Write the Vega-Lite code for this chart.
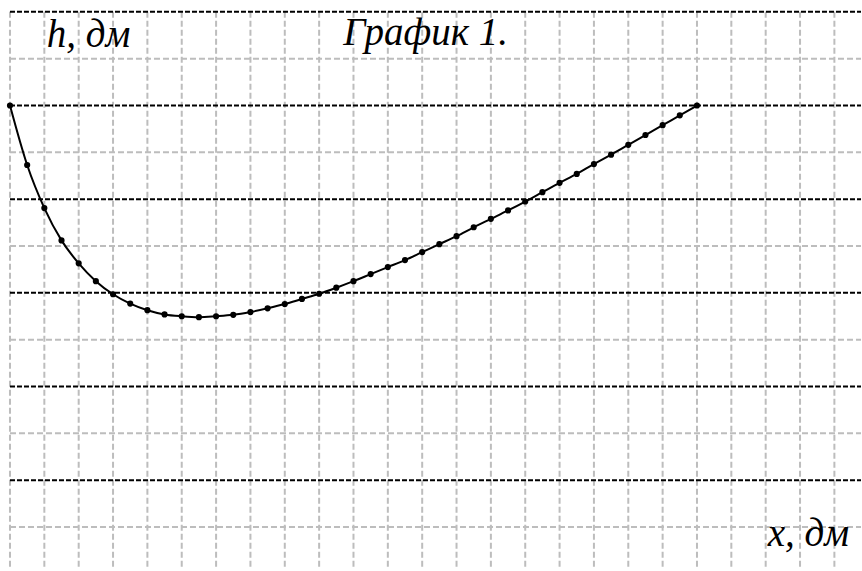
{
  "$schema": "https://vega.github.io/schema/vega-lite/v6.json",
  "width": 862,
  "height": 571,
  "autosize": {"type": "fit", "contains": "padding"},
  "padding": 0,
  "background": "white",
  "config": {"view": {"stroke": null}},
  "datasets": {
    "vlines": [{"gx":0},{"gx":1},{"gx":2},{"gx":3},{"gx":4},{"gx":5},{"gx":6},{"gx":7},{"gx":8},{"gx":9},{"gx":10},{"gx":11},{"gx":12},{"gx":13},{"gx":14},{"gx":15},{"gx":16},{"gx":17},{"gx":18},{"gx":19},{"gx":20},{"gx":21},{"gx":22},{"gx":23},{"gx":24}],
    "hgray": [{"gy":0},{"gy":2},{"gy":4},{"gy":6},{"gy":8},{"gy":10}],
    "hblack": [{"gy":1},{"gy":3},{"gy":5},{"gy":7},{"gy":9},{"gy":11}],
    "curve": [
      {"x":0,"h":9.0},{"x":0.5,"h":7.73},{"x":1,"h":6.81},{"x":1.5,"h":6.12},{"x":2,"h":5.63},{"x":2.5,"h":5.25},{"x":3,"h":4.97},{"x":3.5,"h":4.77},{"x":4,"h":4.63},{"x":4.5,"h":4.54},{"x":5,"h":4.5},{"x":5.5,"h":4.48},{"x":6,"h":4.5},{"x":6.5,"h":4.53},{"x":7,"h":4.59},{"x":7.5,"h":4.67},{"x":8,"h":4.76},{"x":8.5,"h":4.87},{"x":9,"h":4.98},{"x":9.5,"h":5.11},{"x":10,"h":5.25},{"x":10.5,"h":5.4},{"x":11,"h":5.55},{"x":11.5,"h":5.7},{"x":12,"h":5.87},{"x":12.5,"h":6.04},{"x":13,"h":6.21},{"x":13.5,"h":6.4},{"x":14,"h":6.58},{"x":14.5,"h":6.76},{"x":15,"h":6.95},{"x":15.5,"h":7.15},{"x":16,"h":7.35},{"x":16.5,"h":7.54},{"x":17,"h":7.75},{"x":17.5,"h":7.95},{"x":18,"h":8.16},{"x":18.5,"h":8.37},{"x":19,"h":8.58},{"x":19.5,"h":8.79},{"x":20,"h":9.0}
    ],
    "labels": [
      {"tx":1.07,"ty":10.25,"label":"h, дм","pos":"left"},
      {"tx":12.1,"ty":10.3,"label":"График 1.","pos":"center"},
      {"tx":24.43,"ty":-0.4,"label":"x, дм","pos":"right"}
    ]
  },
  "layer": [
    {
      "data": {"name": "vlines"},
      "mark": {"type": "rule", "stroke": "#bdbdbd", "strokeWidth": 2, "strokeDash": [6, 3]},
      "encoding": {
        "x": {"field": "gx", "type": "quantitative", "scale": {"domain": [-0.2908, 24.775], "nice": false, "zero": false}, "axis": null},
        "y": {"datum": 11, "type": "quantitative", "scale": {"domain": [-0.9396, 11.2535], "nice": false, "zero": false}, "axis": null},
        "y2": {"datum": -0.88}
      }
    },
    {
      "data": {"name": "hgray"},
      "mark": {"type": "rule", "stroke": "#bdbdbd", "strokeWidth": 2, "strokeDash": [6, 3]},
      "encoding": {
        "y": {"field": "gy", "type": "quantitative", "scale": {"domain": [-0.9396, 11.2535], "nice": false, "zero": false}, "axis": null},
        "x": {"datum": 0, "type": "quantitative", "scale": {"domain": [-0.2908, 24.775], "nice": false, "zero": false}, "axis": null},
        "x2": {"datum": 24.775}
      }
    },
    {
      "data": {"name": "hblack"},
      "mark": {"type": "rule", "stroke": "black", "strokeWidth": 2, "strokeDash": [5, 2]},
      "encoding": {
        "y": {"field": "gy", "type": "quantitative", "scale": {"domain": [-0.9396, 11.2535], "nice": false, "zero": false}, "axis": null},
        "x": {"datum": 0, "type": "quantitative", "scale": {"domain": [-0.2908, 24.775], "nice": false, "zero": false}, "axis": null},
        "x2": {"datum": 24.775}
      }
    },
    {
      "data": {"name": "curve"},
      "mark": {"type": "line", "stroke": "black", "strokeWidth": 2, "interpolate": "monotone"},
      "encoding": {
        "x": {"field": "x", "type": "quantitative", "scale": {"domain": [-0.2908, 24.775], "nice": false, "zero": false}, "axis": null},
        "y": {"field": "h", "type": "quantitative", "scale": {"domain": [-0.9396, 11.2535], "nice": false, "zero": false}, "axis": null}
      }
    },
    {
      "data": {"name": "curve"},
      "mark": {"type": "circle", "color": "black", "opacity": 1, "size": 38},
      "encoding": {
        "x": {"field": "x", "type": "quantitative", "scale": {"domain": [-0.2908, 24.775], "nice": false, "zero": false}, "axis": null},
        "y": {"field": "h", "type": "quantitative", "scale": {"domain": [-0.9396, 11.2535], "nice": false, "zero": false}, "axis": null}
      }
    },
    {
      "data": {"name": "labels"},
      "transform": [{"filter": "datum.pos == 'left'"}],
      "mark": {"type": "text", "font": "Liberation Serif", "fontStyle": "italic", "fontSize": 39, "align": "left", "baseline": "alphabetic", "color": "black"},
      "encoding": {
        "x": {"field": "tx", "type": "quantitative", "scale": {"domain": [-0.2908, 24.775], "nice": false, "zero": false}, "axis": null},
        "y": {"field": "ty", "type": "quantitative", "scale": {"domain": [-0.9396, 11.2535], "nice": false, "zero": false}, "axis": null},
        "text": {"field": "label"}
      }
    },
    {
      "data": {"name": "labels"},
      "transform": [{"filter": "datum.pos == 'center'"}],
      "mark": {"type": "text", "font": "Liberation Serif", "fontStyle": "italic", "fontSize": 39, "align": "center", "baseline": "alphabetic", "color": "black"},
      "encoding": {
        "x": {"field": "tx", "type": "quantitative", "scale": {"domain": [-0.2908, 24.775], "nice": false, "zero": false}, "axis": null},
        "y": {"field": "ty", "type": "quantitative", "scale": {"domain": [-0.9396, 11.2535], "nice": false, "zero": false}, "axis": null},
        "text": {"field": "label"}
      }
    },
    {
      "data": {"name": "labels"},
      "transform": [{"filter": "datum.pos == 'right'"}],
      "mark": {"type": "text", "font": "Liberation Serif", "fontStyle": "italic", "fontSize": 39, "align": "right", "baseline": "alphabetic", "color": "black"},
      "encoding": {
        "x": {"field": "tx", "type": "quantitative", "scale": {"domain": [-0.2908, 24.775], "nice": false, "zero": false}, "axis": null},
        "y": {"field": "ty", "type": "quantitative", "scale": {"domain": [-0.9396, 11.2535], "nice": false, "zero": false}, "axis": null},
        "text": {"field": "label"}
      }
    }
  ]
}
